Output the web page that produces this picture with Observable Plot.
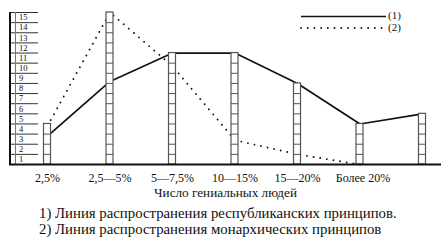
<!DOCTYPE html>
<html><head><meta charset="utf-8">
<script src="https://cdn.jsdelivr.net/npm/d3@7"></script>
<script src="https://cdn.jsdelivr.net/npm/@observablehq/plot@0.6"></script>
<style>
body{margin:0;background:#fff;font-family:"Liberation Serif","Times New Roman",serif;}
#wrap{position:relative;width:441px;height:244px;overflow:hidden;}
.cap{position:absolute;left:39px;font-size:14.8px;white-space:nowrap;color:#111;line-height:16px;}
</style></head><body><div id="wrap"></div>
<script>
const categories = ["2,5%","2,5—5%","5—7,5%","10—15%","15—20%","Более 20%",""];
const barHeights = [4,15,11,11,8,4,5];
const republican = [2.8,8.2,11,11,8,4,5];
const monarchic = [3.8,15,9.7,2.4,1.0,0];
const yTicks = d3.range(0,16);
const xLabel = "Число гениальных людей";
const legendLabels = ["(1)","(2)"];
const captions = ["1) Линия распространения республиканских принципов.","2) Линия распространения монархических принципов"];

const FONT = "'Liberation Serif', 'Times New Roman', serif";
const bars = barHeights.map((h,i)=>({i,h}));
const rungs = bars.flatMap(b => d3.range(1, Math.ceil(b.h)).map(k => ({i:b.i, k})));
const rep = republican.map((v,i)=>({i,v}));
const mon = monarchic.map((v,i)=>({i,v}));
const axisX = -0.6; // left ladder axis, in category units

const chart = Plot.plot({
  width: 441, height: 200,
  marginLeft: 9, marginRight: 0, marginTop: 12, marginBottom: 36,
  x: {type:"linear", domain:[0,6], range:[47,422], axis:null},
  y: {domain:[0,15], axis:null},
  style: {fontFamily:FONT, fontSize:"12px", color:"#111", background:"#fff"},
  marks: [
    Plot.ruleY(yTicks, {y:d=>d, x1:()=>axisX, x2:()=>axisX+0.456, stroke:"#333", strokeWidth:1}),
    Plot.ruleX([axisX], {y1:0, y2:15, stroke:"#111", strokeWidth:2}),
    Plot.ruleX([axisX+0.088], {y1:0, y2:15, stroke:"#777", strokeWidth:1}),
    Plot.text(yTicks.slice(1), {x:()=>axisX, y:d=>d-0.5, text:d=>String(d), dx:9, textAnchor:"start", fontSize:8.5}),
    Plot.line(rep, {x:"i", y:"v", stroke:"#111", strokeWidth:1.7}),
    Plot.line(mon, {x:"i", y:"v", stroke:"#111", strokeWidth:1.9, strokeLinecap:"round", strokeDasharray:"0.01 6.7"}),
    Plot.rect(bars, {x1:"i", x2:"i", y1:0, y2:"h", insetLeft:-3.5, insetRight:-3.5, fill:"#fff", stroke:"#555", strokeWidth:1.2}),
    Plot.ruleY(rungs, {y:"k", x1:"i", x2:"i", insetLeft:-3.5, insetRight:-3.5, stroke:"#555", strokeWidth:1}),
    Plot.ruleY([0], {stroke:"#111", strokeWidth:2}),
    Plot.text(categories.slice(0,5), {x:(d,i)=>i, y:()=>0, text:d=>d, dy:13.5, lineAnchor:"middle"}),
    Plot.text([categories[5]], {x:()=>5, y:()=>0, text:d=>d, dx:3, dy:13.5, lineAnchor:"middle"}),
    Plot.text([xLabel], {frameAnchor:"bottom", text:d=>d, dy:28.5, lineAnchor:"middle", fontSize:13.2})
  ]
});
const wrap = document.getElementById("wrap");
wrap.appendChild(chart);
chart.style.position="absolute"; chart.style.left="0"; chart.style.top="0";

const lg = d3.select(wrap).append("svg").attr("width",441).attr("height",40)
  .style("position","absolute").style("left","0").style("top","0");
lg.append("line").attr("x1",301).attr("x2",386).attr("y1",16.5).attr("y2",16.5).attr("stroke","#111").attr("stroke-width",1.7);
lg.append("line").attr("x1",301).attr("x2",384).attr("y1",28).attr("y2",28).attr("stroke","#111").attr("stroke-width",1.9)
  .attr("stroke-linecap","round").attr("stroke-dasharray","0.01 6.7");
legendLabels.forEach((t,j)=>lg.append("text").attr("x",388).attr("y",j?28:16.5).attr("dominant-baseline","middle")
  .style("font-family",FONT).attr("font-size",11).attr("fill","#111").text(t));

captions.forEach((c,j)=>{
  const d = document.createElement("div");
  d.className="cap"; d.textContent=c; d.style.top=(204.7+j*16.6)+"px"; d.style.fontFamily=FONT;
  wrap.appendChild(d);
});
</script></body></html>
